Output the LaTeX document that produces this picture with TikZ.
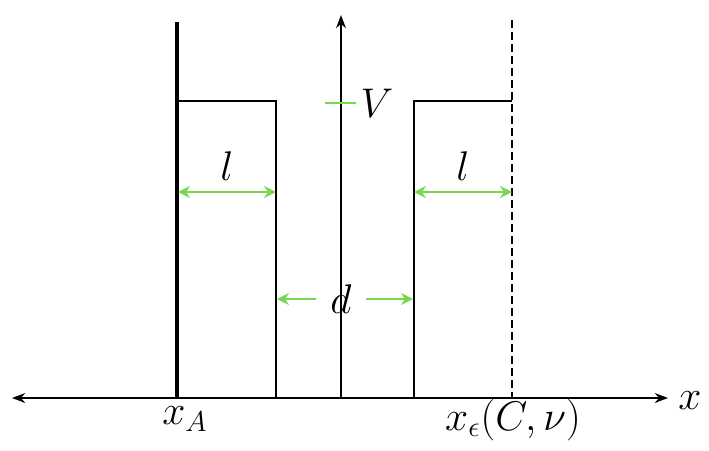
\documentclass[tikz,border=0pt]{standalone}
\usetikzlibrary{positioning, arrows.meta, calc}
\definecolor{lgreen}{RGB}{120,215,80}
\tikzset{
	>=Stealth,
	wall/.style={black, line width=2.2pt},
	barrier/.style={black, thick},
	measure/.style={lgreen, thick, <->, >={Stealth[length=6pt,width=6pt]}},
	lbl/.style={font=\huge},
}
\begin{document}
\begin{tikzpicture}[x=0.5pt, y=-0.5pt]
			\useasboundingbox (0,0) rectangle (709,451);
			\coordinate (L) at (12,398);
			\coordinate (R) at (668,398);
			\coordinate (O) at (341,398);
			\coordinate (top) at (341,15);
			\coordinate (wa) at (177,22);
			\coordinate (wb) at (177,398);
			\coordinate (ea) at (512,20);
			\coordinate (eb) at (512,398);
			
			\draw[<->, thick] (L) -- (R);
			\draw[->, thick] (O) -- (top);
			\draw[wall] (wa) -- (wb);
			\draw[line width=1.2pt, dash pattern=on 4pt off 2pt] (ea) -- (eb);
			\draw[barrier] (177,398) -- (177,101) -- (276,101) -- (276,398);
			\draw[barrier] (414,398) -- (414,101) -- (512,101);
			
			\draw[lgreen, thick] (325,103) -- (356,103);
			\node[lbl] (V) at (377,103) {$V$};
			
			\coordinate (l1a) at (178,192);
			\coordinate (l1b) at (276,192);
			\draw[measure] (l1a) -- (l1b);
			\node[lbl] (l1) at (227,166) {$l$};
			\coordinate (l2a) at (414,192);
			\coordinate (l2b) at (512,192);
			\draw[measure] (l2a) -- (l2b);
			\node[lbl] (l2) at (463,166) {$l$};
			
			\node[lbl] (d) at (341,299) {$d$};
			\coordinate (da) at (277,299);
			\coordinate (db) at (413,299);
			\coordinate (dl) at (316,299);
			\coordinate (dr) at (366,299);
			\draw[measure, -{Stealth[length=6pt,width=6pt]}] (dr) -- (db);
			\draw[measure, -{Stealth[length=6pt,width=6pt]}] (dl) -- (da);
			
			\node[lbl] (xA) at (185,419) {$x_A$};
			\node[lbl] (xe) at (513,420) {$x_\epsilon(C,\nu)$};
			\node[lbl] (x) at (690,401) {$x$};
\end{tikzpicture}
\end{document}
